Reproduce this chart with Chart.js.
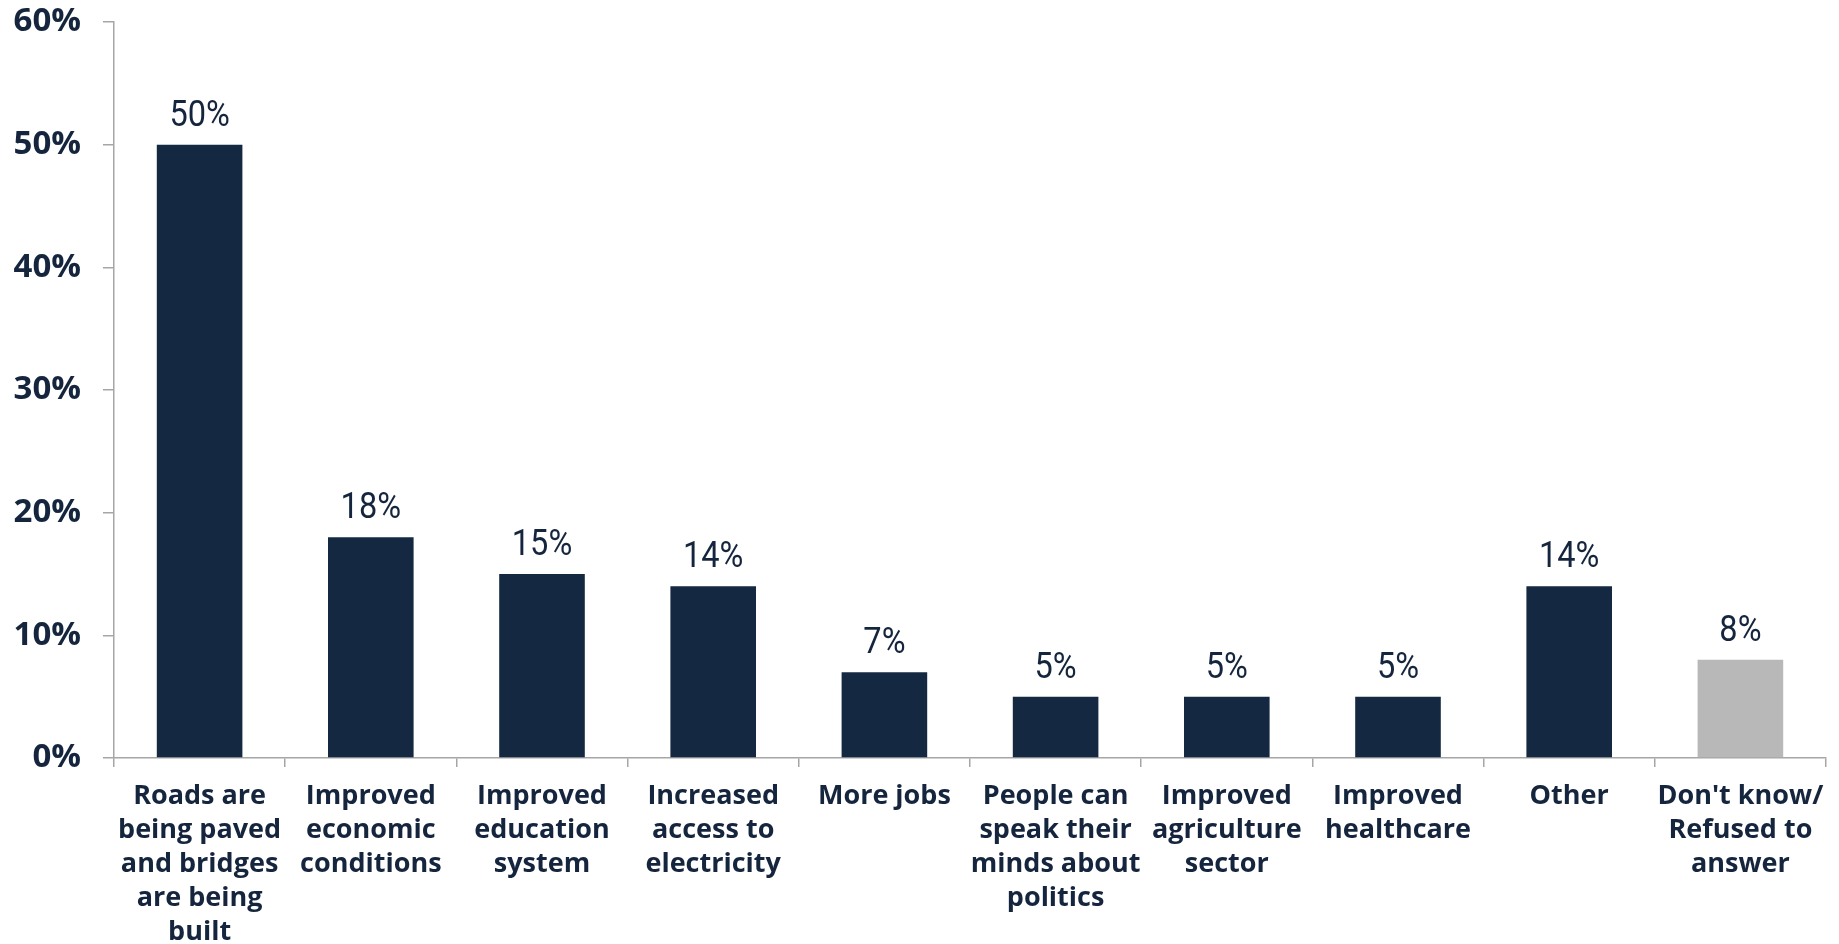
<!DOCTYPE html>
<html>
<head>
<meta charset="utf-8">
<script src="https://cdn.jsdelivr.net/npm/chart.js@4.4.0/dist/chart.umd.min.js"></script>
<style>
  html, body { margin: 0; padding: 0; background: #ffffff; }
  #wrap { width: 1839px; height: 944px; }
</style>
</head>
<body>
<div id="wrap"><canvas id="c" width="1839" height="944"></canvas></div>
<script>
const categories = [
  ["Roads are", "being paved", "and bridges", "are being", "built"],
  ["Improved", "economic", "conditions"],
  ["Improved", "education", "system"],
  ["Increased", "access to", "electricity"],
  ["More jobs"],
  ["People can", "speak their", "minds about", "politics"],
  ["Improved", "agriculture", "sector"],
  ["Improved", "healthcare"],
  ["Other"],
  ["Don't know/", "Refused to", "answer"]
];
const values = [50, 18, 15, 14, 7, 5, 5, 5, 14, 8];
const barColors = ["#152842", "#152842", "#152842", "#152842", "#152842", "#152842", "#152842", "#152842", "#152842", "#b8b8b8"];
const yTicks = [0, 10, 20, 30, 40, 50, 60];

const textColor = "#14253d";
const axisColor = "#a6a6a6";

const dataLabelPlugin = {
  id: "dataLabels",
  afterDatasetsDraw(chart) {
    const ctx = chart.ctx;
    const meta = chart.getDatasetMeta(0);
    meta.data.forEach((bar, i) => {
      ctx.save();
      ctx.font = "37px Roboto";
      ctx.fillStyle = textColor;
      ctx.textAlign = "center";
      ctx.textBaseline = "alphabetic";
      ctx.translate(bar.x, bar.y - 19);
      ctx.scale(0.88, 1);
      ctx.fillText(values[i] + "%", 0, 0);
      ctx.restore();
    });
  }
};

new Chart(document.getElementById("c"), {
  type: "bar",
  data: {
    labels: categories,
    datasets: [{
      data: values,
      backgroundColor: barColors,
      borderWidth: 0,
      barPercentage: 0.5,
      categoryPercentage: 1.0
    }]
  },
  options: {
    responsive: false,
    animation: false,
    events: [],
    layout: { autoPadding: false, padding: { top: 22, right: 13, left: 0, bottom: 0 } },
    plugins: { legend: { display: false }, tooltip: { enabled: false } },
    scales: {
      x: {
        offset: true,
        grid: { display: true, drawOnChartArea: false, offset: true, tickLength: 9, color: axisColor, lineWidth: 1.5 },
        border: { display: true, color: axisColor, width: 1.5 },
        ticks: {
          color: textColor,
          font: { family: "'Open Sans'", weight: "bold", size: 27, lineHeight: 1.26 },
          padding: 12,
          maxRotation: 0,
          autoSkip: false
        },
        afterFit(scale) { scale.height = 186; scale.paddingLeft = 0; scale.paddingRight = 0; }
      },
      y: {
        min: 0,
        max: 60,
        afterBuildTicks(scale) { scale.ticks = yTicks.map(v => ({ value: v })); },
        grid: { display: true, drawOnChartArea: false, tickLength: 11, color: axisColor, lineWidth: 1.5 },
        border: { display: true, color: axisColor, width: 1.5 },
        ticks: {
          color: textColor,
          font: { family: "'Open Sans'", weight: "bold", size: 33 },
          padding: 22,
          callback: v => v + "%"
        },
        afterFit(scale) { scale.width = 114; scale.paddingTop = 0; scale.paddingBottom = 0; }
      }
    }
  },
  plugins: [dataLabelPlugin]
});
</script>
</body>
</html>
